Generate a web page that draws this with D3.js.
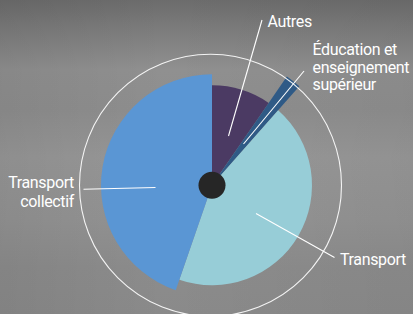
<!DOCTYPE html>
<html><head><meta charset="utf-8">
<script src="https://cdn.jsdelivr.net/npm/d3@7"></script>
<style>
html,body{margin:0;padding:0;background:#8f8f8f;}
svg{display:block;}
text{font-family:Roboto,"Liberation Sans",sans-serif;fill:#fff;font-size:16px;letter-spacing:-0.35px;}
</style></head>
<body>
<svg id="c" width="413" height="314"></svg>
<script>
// Data
const categories = ["Autres", "Éducation et enseignement supérieur", "Transport", "Transport collectif"];
const shares = [9.6, 1.9, 43.8, 44.7];          // angular share (%)
const magnitudes = [100, 132, 100, 111];          // relative radial length
const colors = ["#4b3a63", "#2f5a86", "#97cdd7", "#5a96d4"];
const labelLines = [["Autres"], ["Éducation et", "enseignement", "supérieur"], ["Transport"], ["Transport", "collectif"]];

const W = 413, H = 314;
const cx = 212, cy = 185.3;
const svg = d3.select("#c");

// background
const defs = svg.append("defs");
const g1 = defs.append("linearGradient").attr("id","bg").attr("x1",0).attr("y1",0).attr("x2",0).attr("y2",1);
[["0%","#6c6c6c"],["10%","#7d7d7d"],["22%","#909090"],["35%","#8e8e8e"],["50%","#979797"],["70%","#939393"],["85%","#8c8c8c"],["100%","#8a8a8a"]]
  .forEach(([o,c])=>g1.append("stop").attr("offset",o).attr("stop-color",c));
svg.append("rect").attr("width",W).attr("height",H).attr("fill","url(#bg)");
const g2 = defs.append("linearGradient").attr("id","bg2").attr("x1",0).attr("y1",0).attr("x2",1).attr("y2",0);
[["0%","#000",0.06],["40%","#000",0],["100%","#000",0.04]].forEach(([o,c,a])=>g2.append("stop").attr("offset",o).attr("stop-color",c).attr("stop-opacity",a));
svg.append("rect").attr("width",W).attr("height",H).attr("fill","url(#bg2)");

const rScale = d3.scaleLinear().domain([0, 132]).range([0, 132]);
const pie = d3.pie().sort(null).value(d => d.share).startAngle(0).endAngle(2*Math.PI);
const data = categories.map((c,i)=>({cat:c, share:shares[i], mag:magnitudes[i], color:colors[i], lines:labelLines[i]}));
const arcs = pie(data);
const arc = d3.arc().innerRadius(0).outerRadius(d => rScale(d.data.mag));

const g = svg.append("g").attr("transform",`translate(${cx},${cy})`);
g.selectAll("path.slice").data(arcs).join("path").attr("class","slice")
  .attr("d", arc).attr("fill", d=>d.data.color);

// outer ring
svg.append("circle").attr("cx",210.5).attr("cy",185.3).attr("r",rScale(131))
  .attr("fill","none").attr("stroke","#fff").attr("stroke-width",1.1).attr("opacity",0.9);

// center dot
g.append("circle").attr("r",13.5).attr("fill","#262626");

// leader lines and labels (positions per category)
const leaders = [
  {x1:228.5,y1:136,x2:262,y2:20, tx:267.5, ty:26.5, anchor:"start", lh:17.5},
  {x1:243.5,y1:144,x2:304,y2:71, tx:312.5, ty:55, anchor:"start", lh:17.5},
  {x1:256,y1:213.5,x2:334.5,y2:257.5, tx:340, ty:265, anchor:"start", lh:17.5},
  {x1:83.5,y1:189.3,x2:155.5,y2:187.5, tx:74, ty:188, anchor:"end", lh:18.5}
];
data.forEach((d,i)=>{
  const L = leaders[i];
  svg.append("line").attr("x1",L.x1).attr("y1",L.y1).attr("x2",L.x2).attr("y2",L.y2)
    .attr("stroke","#fff").attr("stroke-width",1.1);
  const t = svg.append("text").attr("x",L.tx).attr("y",L.ty).attr("text-anchor",L.anchor);
  d.lines.forEach((ln,j)=>t.append("tspan").attr("x",L.tx).attr("dy", j===0?0:L.lh).text(ln));
});
</script>
</body></html>
